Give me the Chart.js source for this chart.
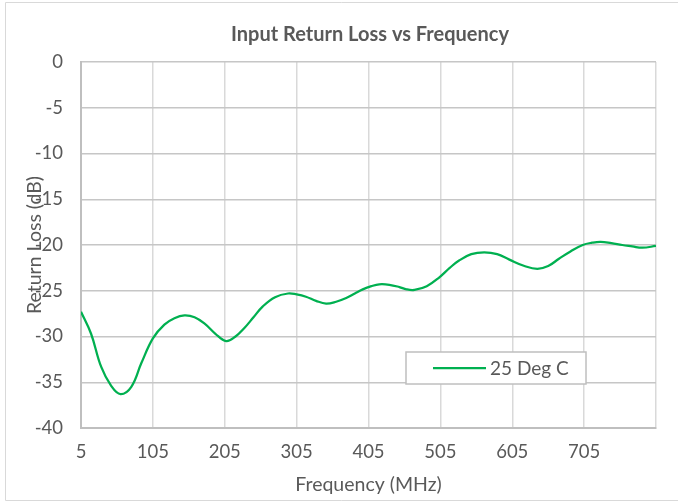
<!DOCTYPE html>
<html>
<head>
<meta charset="utf-8">
<script src="https://cdn.jsdelivr.net/npm/chart.js@4/dist/chart.umd.min.js"></script>
<style>
  html, body { margin: 0; padding: 0; background: #fff; }
  #wrap { width: 678px; height: 501px; position: relative; }
</style>
</head>
<body>
<div id="wrap"><canvas id="chartRL" width="678" height="501"></canvas></div>
<script>
const titulo = "Input Return Loss vs Frequency";
const frecuencias = [5, 19, 33, 47, 60, 75, 89, 105, 121, 135, 149, 163, 177, 192, 207, 220, 232, 245, 258, 275, 293, 305, 318, 332, 346, 360, 374, 386, 397, 409, 420, 434, 448, 458, 469, 486, 504, 518, 531, 548, 566, 584, 601, 622, 640, 655, 670, 686, 703, 716, 728, 743, 758, 772, 786, 805];
const perdidaRetorno = [-27.3, -29.7, -33.3, -35.4, -36.3, -35.5, -32.9, -30.2, -28.7, -28.0, -27.7, -27.9, -28.6, -29.7, -30.5, -30.0, -29.1, -27.9, -26.7, -25.7, -25.3, -25.4, -25.65, -26.1, -26.4, -26.2, -25.8, -25.3, -24.85, -24.5, -24.3, -24.35, -24.6, -24.85, -24.9, -24.5, -23.5, -22.5, -21.7, -21.0, -20.8, -21.0, -21.6, -22.3, -22.6, -22.3, -21.5, -20.7, -20.0, -19.75, -19.65, -19.8, -20.0, -20.15, -20.3, -20.1];
const etiquetasX = [5, 105, 205, 305, 405, 505, 605, 705];
const etiquetasY = [0, -5, -10, -15, -20, -25, -30, -35, -40];
const nombreSerie = "25 Deg C";

const FUENTE = "Lato, 'Open Sans', sans-serif";
const VERDE = "#00b050";
const GRIS_TXT = "#595959";

const puntos = frecuencias.map((f, i) => ({ x: f, y: perdidaRetorno[i] }));

// titulo, borde exterior y leyenda dentro del área del gráfico
const extras = {
  id: "extras",
  afterDraw(chart) {
    const ctx = chart.ctx;
    ctx.save();
    ctx.strokeStyle = "#d9d9d9";
    ctx.lineWidth = 1;
    ctx.beginPath();
    ctx.moveTo(5.5, 500.5);
    ctx.lineTo(5.5, 2.5);
    ctx.lineTo(678, 2.5);
    ctx.moveTo(5.5, 500.5);
    ctx.lineTo(678, 500.5);
    ctx.stroke();

    ctx.fillStyle = GRIS_TXT;
    ctx.font = "bold 20px " + FUENTE;
    ctx.textAlign = "center";
    ctx.textBaseline = "middle";
    ctx.fillText(titulo, 370, 35);

    // leyenda
    ctx.fillStyle = "#fff";
    ctx.fillRect(406, 352, 180, 32);
    ctx.strokeStyle = "#bfbfbf";
    ctx.lineWidth = 1.5;
    ctx.strokeRect(406, 352, 180, 32);
    ctx.strokeStyle = VERDE;
    ctx.lineWidth = 2.25;
    ctx.beginPath();
    ctx.moveTo(433, 368);
    ctx.lineTo(486, 368);
    ctx.stroke();
    ctx.fillStyle = GRIS_TXT;
    ctx.font = "19px " + FUENTE;
    ctx.textAlign = "left";
    ctx.fillText(chart.data.datasets[0].label, 490, 368.5);
    ctx.restore();
  }
};

new Chart(document.getElementById("chartRL"), {
  type: "line",
  data: {
    datasets: [{
      label: nombreSerie,
      data: puntos,
      borderColor: VERDE,
      borderWidth: 2.25,
      pointRadius: 0,
      tension: 0.4,
      fill: false
    }]
  },
  options: {
    responsive: false,
    animation: false,
    layout: { padding: { top: 62, right: 22, left: 0, bottom: 0 } },
    plugins: {
      legend: { display: false },
      tooltip: { enabled: false },
      title: { display: false }
    },
    scales: {
      x: {
        type: "linear",
        min: 5,
        max: 805,
        afterFit: s => { s.height = 73; },
        ticks: {
          stepSize: 100,
          padding: 13,
          color: GRIS_TXT,
          font: { family: FUENTE, size: 18.5 },
          maxRotation: 0,
          callback: v => etiquetasX.includes(v) ? String(v) : ""
        },
        grid: { color: "#d9d9d9", lineWidth: 1.5, drawTicks: false },
        border: { color: "#bfbfbf", width: 2 },
        title: {
          display: true,
          text: "Frequency (MHz)",
          color: GRIS_TXT,
          font: { family: FUENTE, size: 19.5 },
          padding: { top: 0, bottom: 5 }
        }
      },
      y: {
        min: -40,
        max: 0,
        afterFit: s => { s.width = 81; },
        afterBuildTicks: s => { s.ticks = etiquetasY.map(v => ({ value: v })); },
        ticks: {
          padding: 18,
          color: GRIS_TXT,
          font: { family: FUENTE, size: 18.5 }
        },
        grid: { color: "#c6c6c6", lineWidth: 1.5, drawTicks: false },
        border: { color: "#bfbfbf", width: 2 },
        title: {
          display: true,
          text: "Return Loss (dB)",
          color: GRIS_TXT,
          font: { family: FUENTE, size: 19.5 },
          padding: { top: 23, bottom: 0 }
        }
      }
    }
  },
  plugins: [extras]
});
</script>
</body>
</html>
